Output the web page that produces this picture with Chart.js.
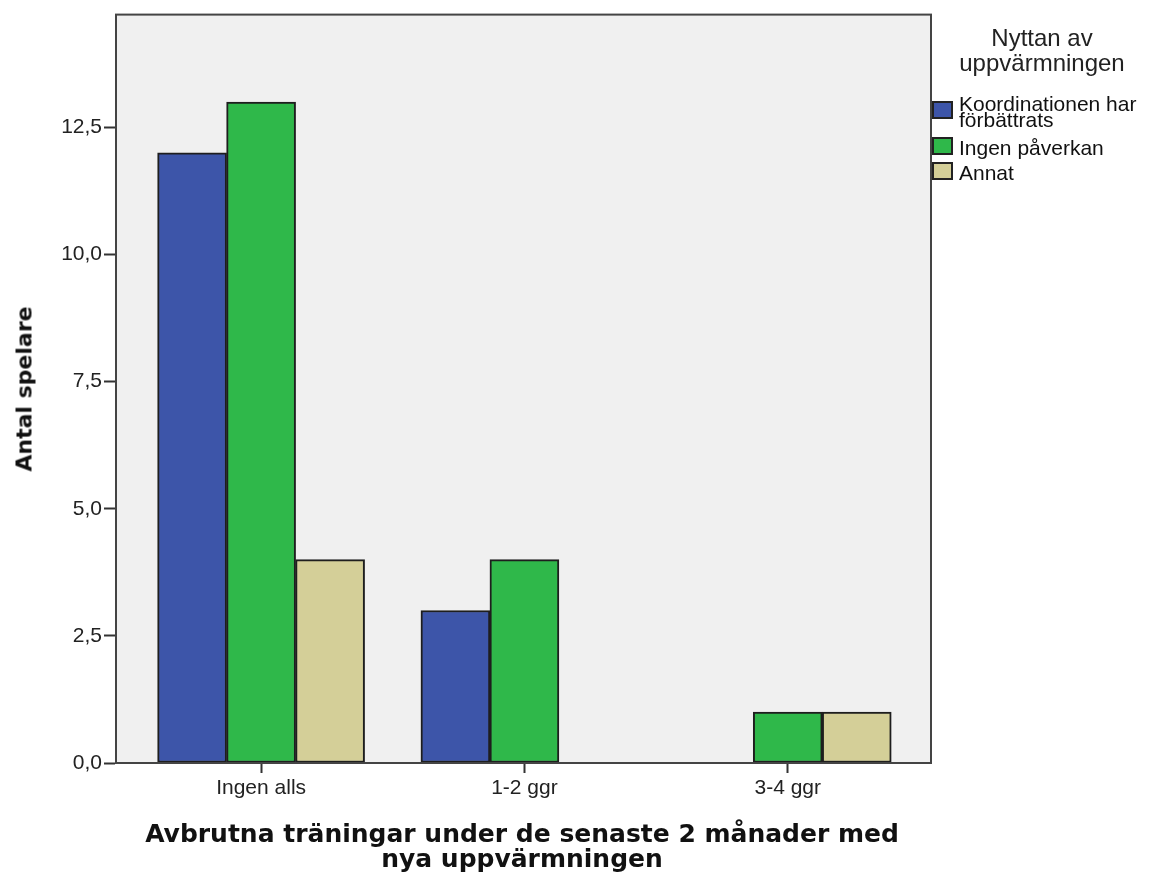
<!DOCTYPE html>
<html>
<head>
<meta charset="utf-8">
<script src="https://cdn.jsdelivr.net/npm/chart.js@4"></script>
<style>
    html, body { margin: 0; padding: 0; background: #fff; }
    #wrap { position: relative; width: 1152px; height: 872px; overflow: hidden; }
    #chart { position: absolute; left: 0; top: 0; }
    .txt { position: absolute; color: #111; white-space: nowrap; }
    #legendTitle { left: 932px; top: 25px; width: 220px; text-align: center; font: 24px "Liberation Sans", Arial, sans-serif; line-height: 25px; color: #222; }
    .item { position: absolute; left: 932px; font: 21px "Liberation Sans", Arial, sans-serif; line-height: 16px; color: #111; }
    .box { position: absolute; left: 0; width: 21px; height: 18px; border: 2px solid #222; box-sizing: border-box; }
    .item span { position: absolute; left: 27px; white-space: nowrap; }
    #yTitle { left: 24px; top: 389px; transform: translate(-50%, -50%) rotate(-90deg); font: bold 22px "DejaVu Sans", Verdana, sans-serif; }
    #xTitle { left: 522px; top: 821px; transform: translateX(-50%); text-align: center; font: bold 25px "DejaVu Sans", Verdana, sans-serif; line-height: 25px; }
</style>
</head>
<body>
<div id="wrap">
    <canvas id="chart" width="1152" height="872"></canvas>
    <div id="legendTitle" class="txt">Nyttan av<br>uppvärmningen</div>
    <div id="legendItems"></div>
    <div id="yTitle" class="txt">Antal spelare</div>
    <div id="xTitle" class="txt">Avbrutna träningar under de senaste 2 månader med<br>nya uppvärmningen</div>
</div>
<script>
    const categories = ["Ingen alls", "1-2 ggr", "3-4 ggr"];
    const seriesNames = ["Koordinationen har\nförbättrats", "Ingen påverkan", "Annat"];
    const koordination = [12, 3, 0];
    const ingenPaverkan = [13, 4, 1];
    const annat = [4, 0, 1];
    const colors = ["#3d55a9", "#2fb84a", "#d4cf98"];
    const yTicks = [0, 2.5, 5, 7.5, 10, 12.5];

    // legend drawn as html on the right, spss style
    const legendTops = [101, 137, 162];
    const textTops = [-5, 3, 3];
    const legendBox = document.getElementById("legendItems");
    seriesNames.forEach((name, i) => {
        const item = document.createElement("div");
        item.className = "item";
        item.style.top = legendTops[i] + "px";
        item.innerHTML = `<div class="box" style="background:${colors[i]}"></div><span style="top:${textTops[i]}px">${name.replace("\n", "<br>")}</span>`;
        legendBox.appendChild(item);
    });

    const frame = {
        id: "frame",
        beforeDraw(chart) {
            const { ctx, chartArea: a } = chart;
            ctx.save();
            ctx.fillStyle = "#f0f0f0";
            ctx.fillRect(a.left, a.top, a.right - a.left, a.bottom - a.top);
            ctx.restore();
        },
        afterDraw(chart) {
            const { ctx, chartArea: a } = chart;
            ctx.save();
            ctx.strokeStyle = "#444";
            ctx.lineWidth = 2;
            ctx.strokeRect(a.left, a.top, a.right - a.left, a.bottom - a.top);
            ctx.restore();
        }
    };

    const toPoints = (values) => values.map((v, i) => ({ x: i, y: v }));
    const barBorder = (c) => (c.raw && c.raw.y === 0 ? 0 : 2);

    new Chart(document.getElementById("chart"), {
        type: "bar",
        data: {
            datasets: [koordination, ingenPaverkan, annat].map((data, i) => ({
                label: seriesNames[i],
                data: toPoints(data),
                backgroundColor: colors[i],
                borderColor: "#1e1e1e",
                borderWidth: barBorder,
                borderSkipped: false,
                barThickness: 69
            }))
        },
        options: {
            responsive: false,
            animation: false,
            layout: { padding: { top: 13, right: 221, left: 0, bottom: 0 } },
            plugins: { legend: { display: false }, tooltip: { enabled: false } },
            scales: {
                x: {
                    type: "linear",
                    min: -0.551,
                    max: 2.544,
                    offset: false,
                    afterFit: (s) => { s.height = 109; },
                    afterBuildTicks: (s) => { s.ticks = categories.map((c, i) => ({ value: i })); },
                    grid: { offset: false, drawOnChartArea: false, tickLength: 10, color: "#333", tickWidth: 2 },
                    border: { color: "#222", width: 2 },
                    ticks: {
                        color: "#222",
                        font: { family: "Liberation Sans, Arial", size: 21 },
                        padding: 3,
                        callback: (v) => categories[v]
                    }
                },
                y: {
                    min: 0,
                    max: 14.72,
                    afterFit: (s) => { s.width = 116; },
                    afterBuildTicks: (s) => { s.ticks = yTicks.map((v) => ({ value: v })); },
                    grid: { drawOnChartArea: false, tickLength: 12, color: "#333", tickWidth: 2 },
                    border: { color: "#444", width: 2 },
                    ticks: {
                        color: "#222",
                        font: { family: "Liberation Sans, Arial", size: 21 },
                        padding: 2,
                        callback: (v) => v.toFixed(1).replace(".", ",")
                    }
                }
            }
        },
        plugins: [frame]
    });
</script>
</body>
</html>
